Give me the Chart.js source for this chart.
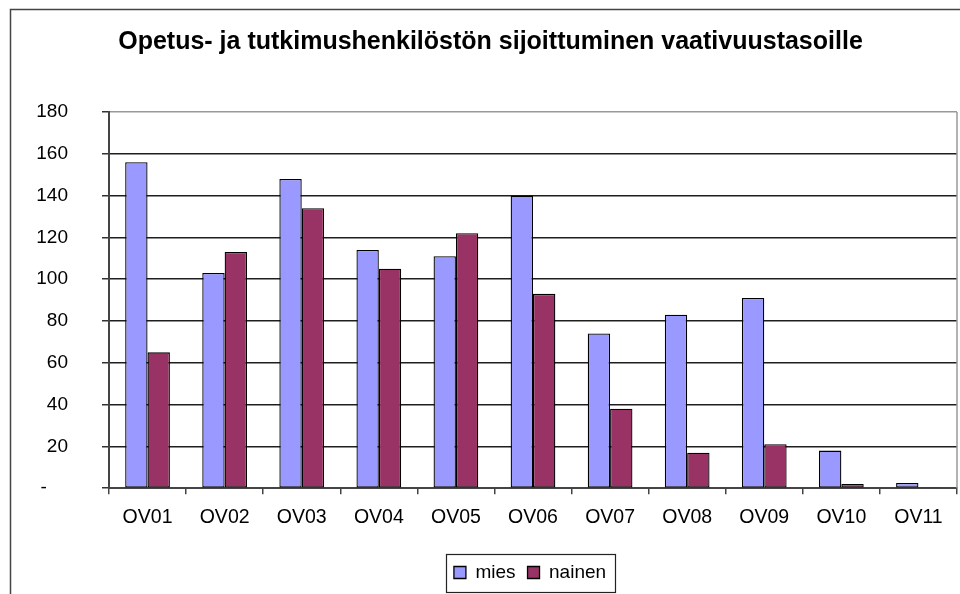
<!DOCTYPE html>
<html>
<head>
<meta charset="utf-8">
<script src="https://cdn.jsdelivr.net/npm/chart.js@4"></script>
<style>
  html, body { margin: 0; padding: 0; background: #ffffff; }
  canvas { display: block; }
</style>
</head>
<body>
<canvas id="c" width="960" height="594"></canvas>
<script>
const titleText = 'Opetus- ja tutkimushenkilöstön sijoittuminen vaativuustasoille';
const categories = ['OV01', 'OV02', 'OV03', 'OV04', 'OV05', 'OV06', 'OV07', 'OV08', 'OV09', 'OV10', 'OV11'];
const miesValues = [156, 103, 148, 114, 111, 140, 74, 83, 91, 18, 2.5];
const nainenValues = [65, 113, 134, 105, 122, 93, 38, 17, 21, 2, 0.5];
const seriesNames = ['mies', 'nainen'];
const yTickValues = [0, 20, 40, 60, 80, 100, 120, 140, 160, 180];
const yTickLabels = ['-    ', '20', '40', '60', '80', '100', '120', '140', '160', '180'];

const FONT = "Arial, 'Liberation Sans', sans-serif";

const framePlugin = {
  id: 'frame',
  beforeDraw(chart) {
    const ctx = chart.ctx;
    ctx.save();
    ctx.fillStyle = '#ffffff';
    ctx.fillRect(0, 0, chart.width, chart.height);
    ctx.strokeStyle = '#444444';
    ctx.lineWidth = 1.5;
    ctx.beginPath();
    ctx.moveTo(10.5, chart.height);
    ctx.lineTo(10.5, 9.5);
    ctx.lineTo(chart.width, 9.5);
    ctx.stroke();
    ctx.restore();
  },
  afterLayout(chart) {
    if (chart.legend) {
      chart.legend.left += 103;
    }
    if (chart.titleBlock) {
      chart.titleBlock.left += 24;
    }
  },
  afterDraw(chart) {
    const ctx = chart.ctx;
    const a = chart.chartArea;
    ctx.save();
    ctx.strokeStyle = '#999999';
    ctx.lineWidth = 1.5;
    ctx.beginPath();
    ctx.moveTo(a.right, a.top);
    ctx.lineTo(a.right, a.bottom);
    ctx.stroke();
    const hb = chart.legend && chart.legend.legendHitBoxes;
    if (hb && hb.length) {
      const first = hb[0];
      const last = hb[hb.length - 1];
      const cy = first.top + first.height / 2;
      const l = first.left - 8;
      const r = last.left + last.width + 9;
      ctx.strokeStyle = '#222222';
      ctx.lineWidth = 1.2;
      ctx.strokeRect(Math.round(l) + 0.5, Math.round(cy - 19) + 0.5, Math.round(r - l), 38);
    }
    ctx.restore();
  }
};

new Chart(document.getElementById('c'), {
  type: 'bar',
  data: {
    labels: categories,
    datasets: [
      {
        label: seriesNames[0],
        data: miesValues,
        backgroundColor: '#9999ff',
        borderColor: '#000000',
        borderWidth: 1.3,
        borderSkipped: false,
        barPercentage: 1,
        categoryPercentage: 0.58
      },
      {
        label: seriesNames[1],
        data: nainenValues,
        backgroundColor: '#993366',
        borderColor: '#000000',
        borderWidth: 1.3,
        borderSkipped: false,
        barPercentage: 1,
        categoryPercentage: 0.58
      }
    ]
  },
  options: {
    responsive: false,
    animation: false,
    devicePixelRatio: 1,
    layout: { padding: { left: 0, right: 3, top: 0, bottom: 2 } },
    plugins: {
      tooltip: { enabled: false },
      title: {
        display: true,
        text: titleText,
        color: '#000000',
        font: { family: FONT, size: 25, weight: 'bold' },
        padding: { top: 27, bottom: 55 }
      },
      legend: {
        display: true,
        position: 'bottom',
        labels: {
          color: '#000000',
          font: { family: FONT, size: 19 },
          boxWidth: 12,
          boxHeight: 12,
          padding: 12
        }
      }
    },
    scales: {
      x: {
        offset: true,
        grid: {
          display: true,
          offset: true,
          drawOnChartArea: false,
          drawTicks: true,
          tickLength: 6,
          color: '#444444',
          lineWidth: 1.5
        },
        border: { display: true, color: '#444444', width: 2 },
        ticks: {
          color: '#000000',
          font: { family: FONT, size: 19.5 },
          padding: 12,
          maxRotation: 0,
          autoSkip: false
        },
        afterFit(scale) { scale.height = 62.8; }
      },
      y: {
        min: 0,
        max: 180,
        afterBuildTicks(scale) {
          scale.ticks = yTickValues.map(v => ({ value: v }));
        },
        grid: {
          color: (c) => (c.tick && c.tick.value === 180 ? '#999999' : '#1e1e1e'),
          lineWidth: 1.5,
          tickLength: 7,
          tickColor: '#333333'
        },
        border: { display: true, color: '#444444', width: 2 },
        ticks: {
          color: '#000000',
          font: { family: FONT, size: 19 },
          padding: 34,
          callback: (value) => {
            const i = yTickValues.indexOf(value);
            return i >= 0 ? yTickLabels[i] : '';
          }
        },
        afterFit(scale) { scale.width = 109; }
      }
    }
  },
  plugins: [framePlugin]
});
</script>
</body>
</html>
